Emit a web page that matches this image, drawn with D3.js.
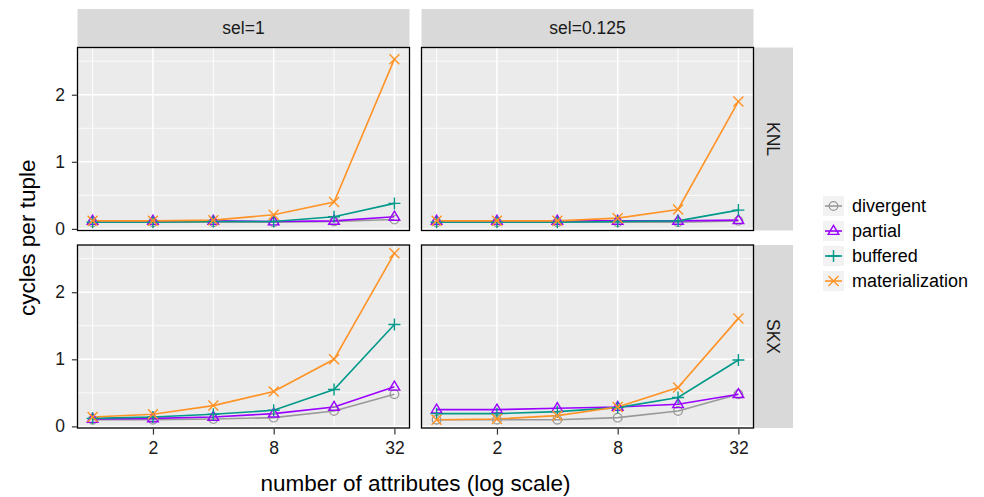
<!DOCTYPE html>
<html><head><meta charset="utf-8">
<script src="https://cdn.jsdelivr.net/npm/d3@7"></script>
<style>body{margin:0;background:#fff;} svg{display:block;font-family:"Liberation Sans",Arial,sans-serif;}</style>
</head><body><svg id="c" width="984" height="497"></svg>
<script>
const attrs = [1, 2, 4, 8, 16, 32];
const xTicks = [2, 8, 32];
const xMinor = [1, 4, 16];
const yTicks = [0, 1, 2];
const yMinor = [0.5, 1.5, 2.5];
const cols = ["sel=1", "sel=0.125"];
const rows = ["KNL", "SKX"];
const seriesNames = ["divergent", "partial", "buffered", "materialization"];
const seriesColors = ["#999999", "#9a00ff", "#00998a", "#ff9326"];
const seriesShapes = ["circle", "triangle", "plus", "cross"];

// KNL, sel=1
const knl1_divergent = [0.10, 0.10, 0.10, 0.10, 0.11, 0.14];
const knl1_partial = [0.12, 0.12, 0.12, 0.11, 0.12, 0.18];
const knl1_buffered = [0.10, 0.10, 0.11, 0.11, 0.18, 0.38];
const knl1_materialization = [0.12, 0.12, 0.13, 0.21, 0.40, 2.53];
// KNL, sel=0.125
const knl2_divergent = [0.10, 0.10, 0.10, 0.10, 0.10, 0.12];
const knl2_partial = [0.12, 0.12, 0.12, 0.12, 0.12, 0.13];
const knl2_buffered = [0.10, 0.10, 0.10, 0.11, 0.12, 0.28];
const knl2_materialization = [0.12, 0.12, 0.12, 0.16, 0.29, 1.90];
// SKX, sel=1
const skx1_divergent = [0.10, 0.10, 0.11, 0.13, 0.23, 0.48];
const skx1_partial = [0.11, 0.12, 0.14, 0.19, 0.29, 0.59];
const skx1_buffered = [0.12, 0.14, 0.18, 0.24, 0.55, 1.52];
const skx1_materialization = [0.14, 0.18, 0.31, 0.52, 1.00, 2.58];
// SKX, sel=0.125
const skx2_divergent = [0.10, 0.10, 0.10, 0.13, 0.23, 0.48];
const skx2_partial = [0.25, 0.25, 0.27, 0.29, 0.33, 0.48];
const skx2_buffered = [0.19, 0.19, 0.22, 0.28, 0.43, 0.99];
const skx2_materialization = [0.10, 0.11, 0.16, 0.29, 0.58, 1.61];

const panels = [
  {row: 0, col: 0, series: [knl1_divergent, knl1_partial, knl1_buffered, knl1_materialization]},
  {row: 0, col: 1, series: [knl2_divergent, knl2_partial, knl2_buffered, knl2_materialization]},
  {row: 1, col: 0, series: [skx1_divergent, skx1_partial, skx1_buffered, skx1_materialization]},
  {row: 1, col: 1, series: [skx2_divergent, skx2_partial, skx2_buffered, skx2_materialization]}
];

const svg = d3.select("#c");
const colX = [77.5, 421.5], panelW = 332;
const rowY = [47.5, 245], panelH = 183;
const stripTop = 9, stripRightW = 39.5;
const FONT = "Liberation Sans, Arial, sans-serif";

const all = panels.flatMap(p => p.series.flat());
const ymin = d3.min(all), ymax = d3.max(all), yr = ymax - ymin;
const lx = Math.log2(1), hx = Math.log2(32), xr = hx - lx;

function xScale(col) {
  return d3.scaleLog().base(2).domain([Math.pow(2, lx - 0.05 * xr), Math.pow(2, hx + 0.05 * xr)])
    .range([colX[col], colX[col] + panelW]);
}
function yScale(row) {
  return d3.scaleLinear().domain([ymin - 0.05 * yr, ymax + 0.05 * yr]).range([rowY[row] + panelH, rowY[row]]);
}

function drawShape(g, shape, x, y, color) {
  const s = 5;
  if (shape === "circle") {
    g.append("circle").attr("cx", x).attr("cy", y).attr("r", 4.3).attr("fill", "none").attr("stroke", color).attr("stroke-width", 1.3);
  } else if (shape === "triangle") {
    const h = 5.6;
    g.append("path").attr("d", `M${x},${y - h}L${x + h * 0.95},${y + h * 0.6}L${x - h * 0.95},${y + h * 0.6}Z`)
      .attr("fill", "none").attr("stroke", color).attr("stroke-width", 1.4);
  } else if (shape === "plus") {
    g.append("path").attr("d", `M${x - 6},${y}H${x + 6}M${x},${y - 6}V${y + 6}`).attr("stroke", color).attr("stroke-width", 1.4);
  } else {
    g.append("path").attr("d", `M${x - s},${y - s}L${x + s},${y + s}M${x - s},${y + s}L${x + s},${y - s}`).attr("stroke", color).attr("stroke-width", 1.4);
  }
}

// strips
cols.forEach((c, i) => {
  svg.append("rect").attr("x", colX[i]).attr("y", stripTop).attr("width", panelW).attr("height", rowY[0] - stripTop).attr("fill", "#d9d9d9");
  svg.append("text").attr("x", colX[i] + panelW / 2).attr("y", (stripTop + rowY[0]) / 2).attr("dy", "0.35em")
    .attr("text-anchor", "middle").attr("font-size", 17.5).attr("fill", "#1a1a1a").text(c);
});
rows.forEach((r, j) => {
  const x0 = colX[1] + panelW;
  svg.append("rect").attr("x", x0).attr("y", rowY[j]).attr("width", stripRightW).attr("height", panelH).attr("fill", "#d9d9d9");
  svg.append("text").attr("transform", `translate(${x0 + stripRightW / 2},${rowY[j] + panelH / 2}) rotate(90)`)
    .attr("dy", "0.35em").attr("text-anchor", "middle").attr("font-size", 17.5).attr("fill", "#1a1a1a").text(r);
});

panels.forEach(p => {
  const x = xScale(p.col), y = yScale(p.row);
  const g = svg.append("g");
  const x0 = colX[p.col], y0 = rowY[p.row];
  g.append("rect").attr("x", x0).attr("y", y0).attr("width", panelW).attr("height", panelH).attr("fill", "#ebebeb");
  yMinor.forEach(v => { const yy = y(v); if (yy > y0 && yy < y0 + panelH) g.append("line").attr("x1", x0).attr("x2", x0 + panelW).attr("y1", yy).attr("y2", yy).attr("stroke", "#fff").attr("stroke-width", 0.8); });
  xMinor.forEach(v => g.append("line").attr("x1", x(v)).attr("x2", x(v)).attr("y1", y0).attr("y2", y0 + panelH).attr("stroke", "#fff").attr("stroke-width", 0.9));
  yTicks.forEach(v => g.append("line").attr("x1", x0).attr("x2", x0 + panelW).attr("y1", y(v)).attr("y2", y(v)).attr("stroke", "#fff").attr("stroke-width", 1.5));
  xTicks.forEach(v => g.append("line").attr("x1", x(v)).attr("x2", x(v)).attr("y1", y0).attr("y2", y0 + panelH).attr("stroke", "#fff").attr("stroke-width", 1.5));

  const line = d3.line().x((d, i) => x(attrs[i])).y(d => y(d));
  p.series.forEach((vals, k) => {
    g.append("path").attr("d", line(vals)).attr("fill", "none").attr("stroke", seriesColors[k]).attr("stroke-width", 1.6);
  });
  p.series.forEach((vals, k) => {
    vals.forEach((v, i) => drawShape(g, seriesShapes[k], x(attrs[i]), y(v), seriesColors[k]));
  });
  g.append("rect").attr("x", x0).attr("y", y0).attr("width", panelW).attr("height", panelH).attr("fill", "none").attr("stroke", "#000").attr("stroke-width", 1.3);

  if (p.col === 0) {
    const ax = svg.append("g").attr("transform", `translate(${x0 - 0.6},0)`)
      .call(d3.axisLeft(y).tickValues(yTicks).tickSize(5).tickPadding(7).tickFormat(d3.format("d")));
    ax.select(".domain").remove();
    ax.selectAll("line").attr("stroke", "#333").attr("stroke-width", 1.2);
    ax.selectAll("text").attr("font-size", 17.5).attr("fill", "#1a1a1a").attr("font-family", FONT);
  }
  if (p.row === 1) {
    const ax = svg.append("g").attr("transform", `translate(0,${y0 + panelH + 0.6})`)
      .call(d3.axisBottom(x).tickValues(xTicks).tickSize(6).tickPadding(6.5).tickFormat(d3.format("d")));
    ax.select(".domain").remove();
    ax.selectAll("line").attr("stroke", "#333").attr("stroke-width", 1.2);
    ax.selectAll("text").attr("font-size", 17.5).attr("fill", "#1a1a1a").attr("font-family", FONT);
  }
});

// axis titles
svg.append("text").attr("x", (colX[0] + colX[1] + panelW) / 2).attr("y", 491).attr("text-anchor", "middle")
  .attr("font-size", 22.5).attr("fill", "#000").text("number of attributes (log scale)");
svg.append("text").attr("transform", `translate(35,${(rowY[0] + rowY[1] + panelH) / 2}) rotate(-90)`).attr("text-anchor", "middle")
  .attr("font-size", 22.5).attr("fill", "#000").text("cycles per tuple");

// legend
const legX = 823, legY = 196, keyW = 21, keyH = 20, keyStep = 25;
seriesNames.forEach((name, k) => {
  const g = svg.append("g");
  const ky = legY + k * keyStep;
  g.append("rect").attr("x", legX).attr("y", ky).attr("width", keyW).attr("height", keyH).attr("fill", "#f2f2f2");
  g.append("line").attr("x1", legX + 2).attr("x2", legX + keyW - 2).attr("y1", ky + keyH / 2).attr("y2", ky + keyH / 2)
    .attr("stroke", seriesColors[k]).attr("stroke-width", 1.6);
  drawShape(g, seriesShapes[k], legX + keyW / 2, ky + keyH / 2, seriesColors[k]);
  g.append("text").attr("x", legX + keyW + 8).attr("y", ky + keyH / 2).attr("dy", "0.35em")
    .attr("font-size", 18).attr("fill", "#000").text(name);
});
</script></body></html>
